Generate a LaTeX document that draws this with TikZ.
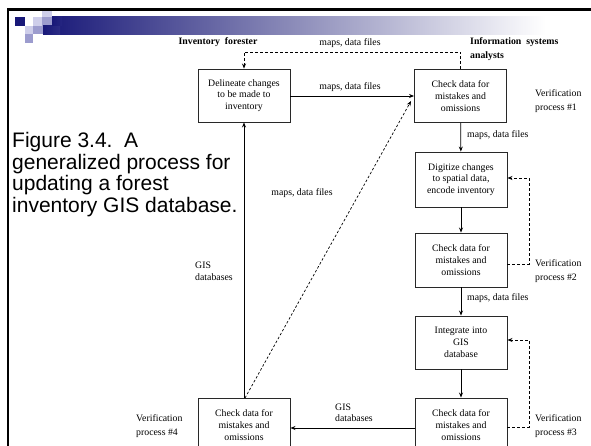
\documentclass[tikz,border=0pt]{standalone}
\usepackage{fontspec}
\setmainfont{Liberation Serif}
\newfontfamily\capfont{Liberation Sans}
\usetikzlibrary{arrows.meta}
\definecolor{navyb}{RGB}{24,24,120}
\definecolor{lavl}{RGB}{206,206,234}
\definecolor{lavm}{RGB}{156,156,206}
\definecolor{boxline}{RGB}{40,40,40}
\tikzset{
  procbox/.style={draw=boxline, line width=0.9pt, minimum width=92pt, minimum height=53pt, inner sep=0pt, align=center, font=\fontsize{9.8}{11.7}\selectfont},
  lbl/.style={inner sep=0pt, font=\fontsize{9.8}{11.7}\selectfont},
  blbl/.style={inner sep=0pt, font=\fontsize{9.8}{12.5}\selectfont\bfseries, align=left},
  flow/.style={line width=0.8pt, -{Stealth[length=5pt,width=4pt]}},
  fb/.style={line width=0.8pt, dashed, dash pattern=on 3pt off 2pt, -{Stealth[length=5pt,width=4pt]}},
  diag/.style={line width=0.7pt, dash pattern=on 2.5pt off 2pt, -{Stealth[length=5pt,width=4pt]}}
}
\begin{document}
\begin{tikzpicture}[x=1pt,y=-1pt]
\useasboundingbox (0,0) rectangle (591,446);
\clip (0,0) rectangle (591,446);
% header decoration
\shade[left color=navyb, right color=white, middle color=black!10!lavm] (43,17) rectangle (546,35);
\fill[white] (8,17) rectangle (43,44);
\fill[navyb] (15,17) rectangle (25,26);
\fill[lavl] (42,10) rectangle (52,17);
\fill[lavl] (33,17) rectangle (42,26);
\fill[lavm] (42,17) rectangle (52,26);
\fill[lavl] (25,26) rectangle (33,34);
\fill[lavm] (33,26) rectangle (43,34);
\fill[lavm] (25,34) rectangle (33,43);
\fill[navyb] (52,17) rectangle (60,35);
\shade[left color=navyb, right color=navyb!85!lavm] (43,26) rectangle (60,35);
\shade[left color=navyb, right color=navyb!90!lavm] (52,17) rectangle (62,26);
% frame
\draw[line width=2.6pt, line cap=rect] (8,446) -- (8,9.3) -- (592,9.3);

% caption
\node[anchor=north west, inner sep=0pt, align=left, font=\capfont\fontsize{21}{21.7}\selectfont] (cap) at (12,132)
  {Figure 3.4.\ \ A\\generalized process for\\updating a forest\\inventory GIS database.};

% boxes
\node[procbox] (A) at (244,95.5) {Delineate changes\\to be made to\\inventory};
\node[procbox] (B) at (460.5,96) {Check data for\\mistakes and\\omissions};
\node[procbox, minimum height=55pt] (C) at (461,179.5) {Digitize changes\\to spatial data,\\encode inventory};
\node[procbox, minimum height=54pt] (D) at (461,260) {Check data for\\mistakes and\\omissions};
\node[procbox] (E) at (461,342.5) {Integrate into\\GIS\\database};
\node[procbox, minimum height=54pt] (F) at (461,425) {Check data for\\mistakes and\\omissions};
\node[procbox, minimum height=54pt] (G) at (244,425) {Check data for\\mistakes and\\omissions};

% headers
\node[blbl, anchor=base] (h1) at (218,45) {Inventory\ \ forester};
\node[blbl, anchor=base west] (h2) at (470,45) {Information\ \ systems};
\node[blbl, anchor=base west] (h3) at (470,58.5) {analysts};

% verification labels
\node[lbl, anchor=base west] (v1) at (535,97) {Verification};
\node[lbl, anchor=base west] (v1b) at (535,111) {process \#1};
\node[lbl, anchor=base west] (v2) at (535,266) {Verification};
\node[lbl, anchor=base west] (v2b) at (535,280) {process \#2};
\node[lbl, anchor=base west] (v3) at (535,421) {Verification};
\node[lbl, anchor=base west] (v3b) at (535,435) {process \#3};
\node[lbl, anchor=base west] (v4) at (136,421) {Verification};
\node[lbl, anchor=base west] (v4b) at (136,435) {process \#4};

% main flows
\draw[flow] (A.east |- 0,96) -- (B.west |- 0,96);
\node[lbl, anchor=base] (l1) at (350,90) {maps, data files};
\draw[flow] (B) -- (C);
\node[lbl, anchor=base west] (l2) at (467,138) {maps, data files};
\draw[flow] (C) -- (D);
\draw[flow] (D) -- (E);
\node[lbl, anchor=base west] (l3) at (467,300) {maps, data files};
\draw[flow] (E) -- (F);
\draw[flow] (F.west |- 0,428) -- (G.east |- 0,428);
\node[lbl, anchor=base west] (l4) at (335,410) {GIS};
\node[lbl, anchor=base west] (l4b) at (335,421) {databases};
\draw[flow] (G.north) -- (A.south);
\node[lbl, anchor=base west] (l5) at (195,268) {GIS};
\node[lbl, anchor=base west] (l5b) at (195,280) {databases};

% feedback dashed loops
\coordinate (t1) at (460.5,52);
\coordinate (t2) at (244,52);
\draw[fb] (B.north) -- (t1) -- (t2) -- (A.north);
\node[lbl, anchor=base] (l6) at (350,45.5) {maps, data files};
\coordinate (r2a) at (529,264);
\coordinate (r2b) at (529,178);
\draw[fb] (D.east |- r2a) -- (r2a) -- (r2b) -- (C.east |- r2b);
\coordinate (r3a) at (529,427);
\coordinate (r3b) at (529,340);
\draw[fb] (F.east |- r3a) -- (r3a) -- (r3b) -- (E.east |- r3b);

% diagonal
\coordinate (g0) at (245,398);
\coordinate (b0) at (411,101);
\draw[diag] (g0) -- (b0);
\node[lbl, anchor=base] (l7) at (302,196) {maps, data files};
\end{tikzpicture}
\end{document}
